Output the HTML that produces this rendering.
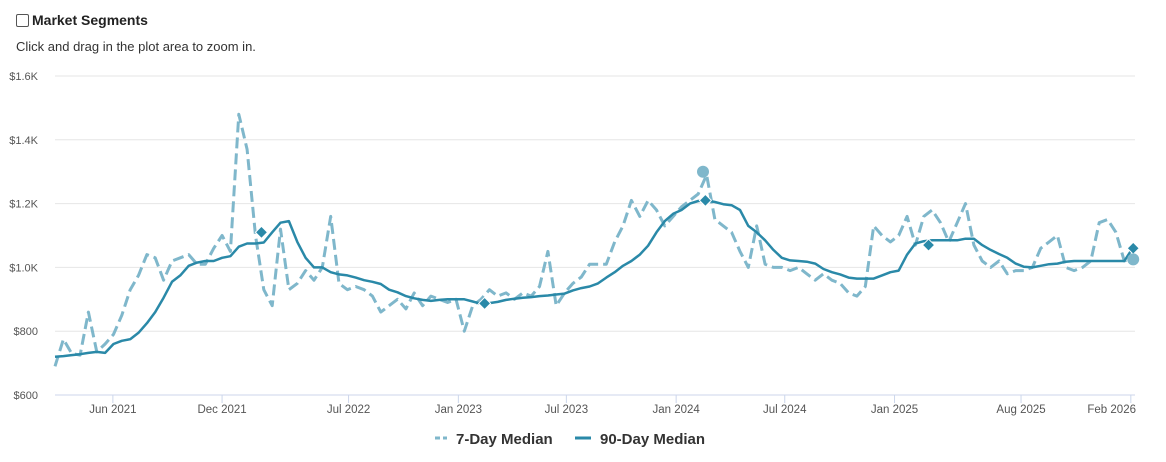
<!DOCTYPE html>
<html><head><meta charset="utf-8">
<style>
body{margin:0;width:1166px;height:462px;background:#fff;font-family:"Liberation Sans",sans-serif;overflow:hidden;position:relative}
#hdr{position:absolute;left:16px;top:12px;font-size:14px;font-weight:bold;color:#222;display:flex;align-items:center}
#cb{width:11px;height:11px;border:1px solid #555;border-radius:2px;margin-right:3px;background:#fff}
#sub{position:absolute;left:16px;top:39px;font-size:13px;color:#333}
svg{position:absolute;left:0;top:0}
</style></head><body>
<div id="hdr"><div id="cb"></div><span>Market Segments</span></div>
<div id="sub">Click and drag in the plot area to zoom in.</div>
<svg id="chart" width="1166" height="462"></svg>
<script>
const startDate = "2021-02-24";
const stepDays = 14;
const median90 = [720,722,725,728,732,735,732,760,770,775,795,825,860,905,955,975,1005,1015,1020,1020,1030,1035,1065,1075,1075,1078,1110,1140,1145,1080,1030,1000,1000,985,978,975,968,960,955,948,930,922,910,903,898,895,898,900,900,900,893,886,888,892,898,902,905,907,910,912,915,918,928,935,940,950,968,985,1005,1020,1040,1068,1110,1145,1168,1180,1200,1208,1210,1205,1198,1195,1180,1130,1110,1085,1055,1030,1022,1020,1018,1012,995,985,978,968,965,965,965,975,985,990,1040,1075,1082,1085,1085,1085,1085,1090,1090,1070,1055,1042,1030,1012,1002,1000,1005,1010,1012,1018,1020,1020,1020,1020,1020,1020,1020,1060];
const median7 = [690,775,730,725,860,735,760,790,850,930,975,1040,1030,960,1020,1030,1040,1010,1010,1060,1100,1050,1480,1370,1100,930,880,1120,930,950,990,960,1000,1160,950,930,940,930,910,860,880,900,870,920,880,910,900,890,900,800,880,900,930,910,920,900,920,910,940,1050,880,920,950,970,1010,1010,1010,1080,1130,1210,1160,1210,1180,1130,1160,1190,1210,1230,1290,1150,1130,1110,1050,1000,1130,1010,1000,1000,990,1000,980,960,980,960,950,920,910,940,1130,1100,1080,1100,1160,1070,1160,1180,1140,1080,1140,1200,1070,1020,1000,1020,980,990,990,1000,1060,1080,1100,1000,990,1000,1020,1140,1150,1110,1020,1030];
const diamondDates = ["2022-02-05","2023-02-14","2024-02-19","2025-02-27","2026-02-05"];
const diamondValues = [1110,887,1210,1070,1060];
const circleDates = ["2024-02-15","2026-02-05"];
const circleValues = [1300,1025];
const yTicks = [600,800,1000,1200,1400,1600];
const yTickLabels = ["$600","$800","$1.0K","$1.2K","$1.4K","$1.6K"];
const xTickDates = ["2021-06-01","2021-12-01","2022-07-01","2023-01-01","2023-07-01","2024-01-01","2024-07-01","2025-01-01","2025-08-01","2026-02-01"];
const xTickLabels = ["Jun 2021","Dec 2021","Jul 2022","Jan 2023","Jul 2023","Jan 2024","Jul 2024","Jan 2025","Aug 2025","Feb 2026"];

const NS="http://www.w3.org/2000/svg";
const svg=document.getElementById('chart');
const L=55,R=1135,T=76,B=395;
const d0=Date.parse("2021-02-24"),d1=Date.parse("2026-02-08");
function xd(ms){return L+(ms-d0)/(d1-d0)*(R-L);}
function xs(s){return xd(Date.parse(s));}
function xi(i){return xd(Date.parse(startDate)+i*stepDays*864e5);}
function y(v){return B-(v-600)/1000*(B-T);}
function mk(tag,at,parent){const e=document.createElementNS(NS,tag);for(const k in at)e.setAttribute(k,at[k]);(parent||svg).appendChild(e);return e;}

yTicks.forEach((v,i)=>{
  const g=mk('line',{x1:L,x2:R,y1:y(v),y2:y(v),stroke:i==0?'#ccd6eb':'#e6e6e6','stroke-width':1});
  
  
  const t=mk('text',{x:38,y:y(v)+4,'text-anchor':'end','font-size':11,fill:'#555'});
  t.textContent=yTickLabels[i];
  
  
});
xTickDates.forEach((s,i)=>{
  const x=xs(s);
  const tk=mk('line',{x1:x,x2:x,y1:B,y2:B+8,stroke:'#ccd6eb'});
  
  
  const last=i==xTickDates.length-1;
  const t=mk('text',{x:last?1136:x,y:B+18,'text-anchor':last?'end':'middle','font-size':11.5,fill:'#555'});
  t.textContent=xTickLabels[i];
  
  
});
function path(arr){return arr.map((v,i)=>(i?'L':'M')+xi(i).toFixed(1)+' '+y(v).toFixed(1)).join(' ');}
const p7=mk('path',{d:path(median7),fill:'none',stroke:'#7fb7cb','stroke-width':3,'stroke-dasharray':'11,5','stroke-linejoin':'round'});


const p90=mk('path',{d:path(median90),fill:'none',stroke:'#2a89a8','stroke-width':2.5,'stroke-linejoin':'round'});


diamondDates.forEach((s,i)=>{
  const cx=xs(s),cy=y(diamondValues[i]);
  const d=mk('path',{d:`M${cx} ${cy-6}L${cx+6} ${cy}L${cx} ${cy+6}L${cx-6} ${cy}Z`,fill:'#2a89a8',stroke:'#fff','stroke-width':1});
  
  
});
circleDates.forEach((s,i)=>{
  const c=mk('circle',{cx:xs(s),cy:y(circleValues[i]),r:6,fill:'#7fb7cb'});
  
  
});
const lg=mk('g',{});


const l1=mk('line',{x1:435,x2:447,y1:438,y2:438,stroke:'#7fb7cb','stroke-width':3,'stroke-dasharray':'5,3'},lg);


const t1=mk('text',{x:456,y:444,'font-size':15,'font-weight':'bold',fill:'#333'},lg);
t1.textContent='7-Day Median';


const l2=mk('line',{x1:575,x2:591,y1:438,y2:438,stroke:'#2a89a8','stroke-width':3},lg);


const t2=mk('text',{x:600,y:444,'font-size':15,'font-weight':'bold',fill:'#333'},lg);
t2.textContent='90-Day Median';


</script>
</body></html>
